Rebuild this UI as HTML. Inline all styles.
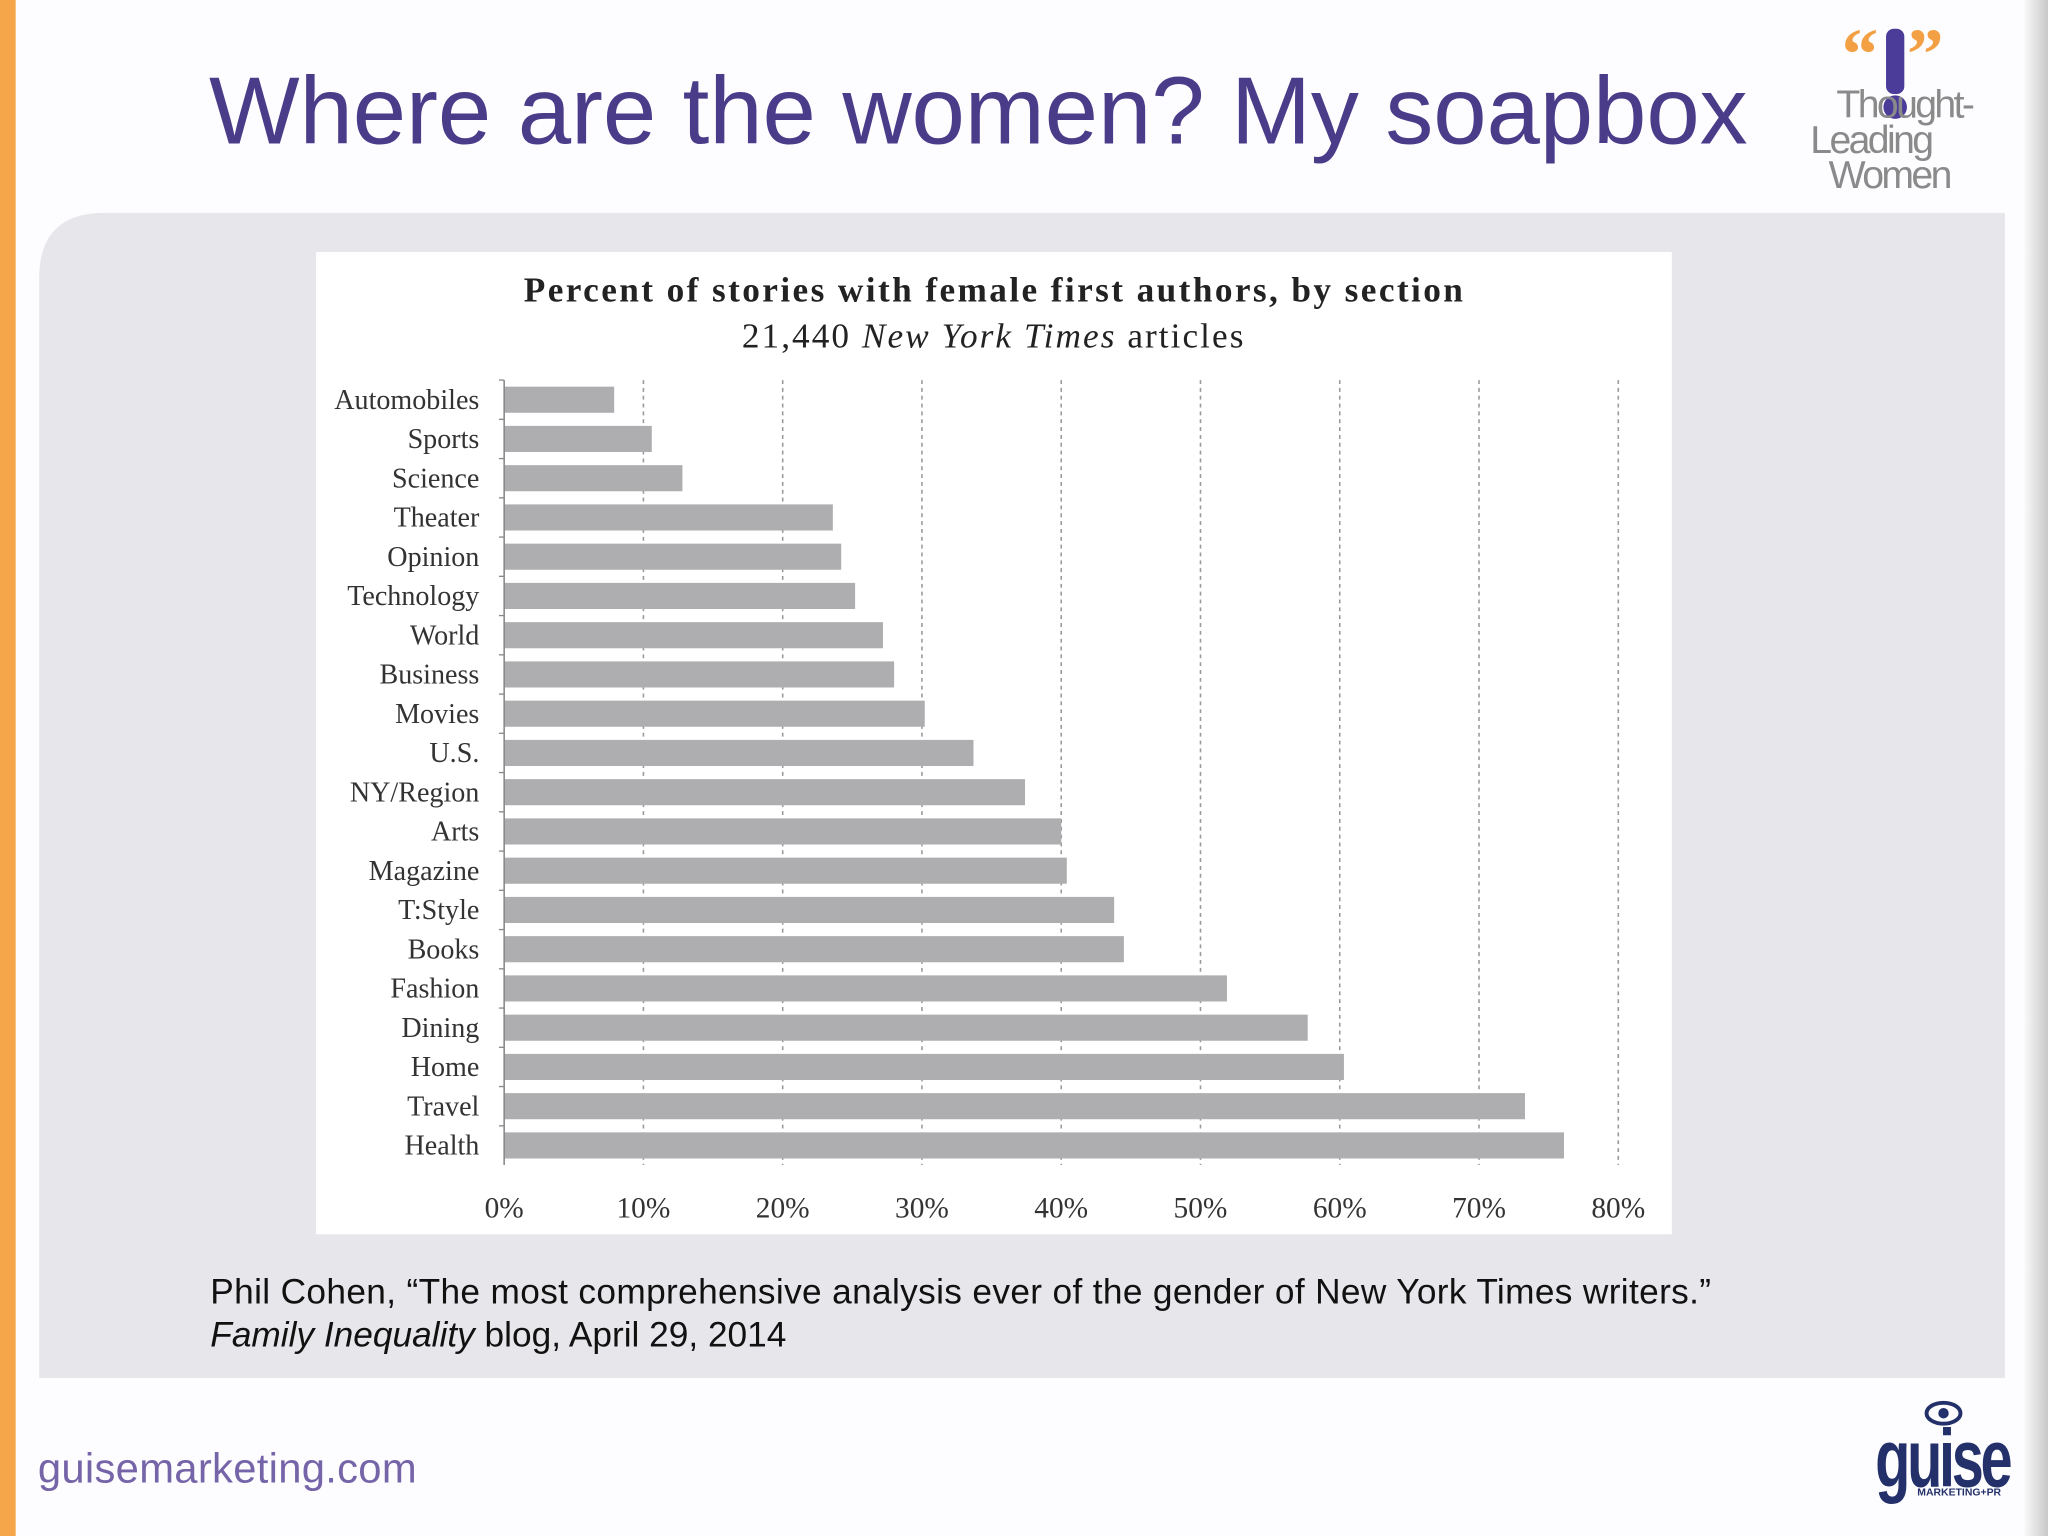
<!DOCTYPE html>
<html><head><meta charset="utf-8">
<style>
html,body{margin:0;padding:0;background:#fff;}
svg{display:block;}
</style></head>
<body>
<svg id="slide" width="2048" height="1536" viewBox="0 0 1568 1176" xmlns="http://www.w3.org/2000/svg">
  <defs>
    <linearGradient id="rshadow" x1="0" x2="1"><stop offset="0" stop-color="#fff"/><stop offset="1" stop-color="#c8c8c8"/></linearGradient>
  </defs>
  <rect width="1568" height="1176" fill="#fdfdff"/>
  <rect x="1548" y="0" width="20" height="1176" fill="url(#rshadow)"/>
  <rect x="0" y="0" width="12" height="1176" fill="#f6a64a"/>
  <text x="160" y="110" font-family="Liberation Sans, sans-serif" font-size="73.5" fill="#4b3c8a" textLength="1178">Where are the women? My soapbox</text>
  <g>
    <text x="1410" y="60" font-family="Liberation Serif, serif" font-weight="bold" font-size="56" fill="#f3a044">“</text>
    <text x="1460" y="60" font-family="Liberation Serif, serif" font-weight="bold" font-size="56" fill="#f3a044">”</text>
    <rect x="1444" y="22" width="14" height="50" rx="6" fill="#4b3c9a"/>
    <circle cx="1451" cy="82" r="9" fill="#4b3c9a"/>
    <text x="1406" y="90" font-family="Liberation Sans, sans-serif" font-size="30" fill="#8a8a8a" letter-spacing="-2">Thought-</text>
    <text x="1386" y="117" font-family="Liberation Sans, sans-serif" font-size="30" fill="#8a8a8a" letter-spacing="-2">Leading</text>
    <text x="1400" y="144" font-family="Liberation Sans, sans-serif" font-size="30" fill="#8a8a8a" letter-spacing="-2">Women</text>
  </g>
  <path d="M30 1055 L30 213 Q30 163 80 163 L1535 163 L1535 1055 Z" fill="#e7e6eb"/>
  <rect x="242" y="193" width="1038" height="752" fill="#ffffff"/>
  <text x="401" y="231" textLength="719" font-family="Liberation Serif, serif" font-weight="bold" font-size="27" fill="#222">Percent of stories with female first authors, by section</text>
  <text x="568" y="266" textLength="384" font-family="Liberation Serif, serif" font-size="27" fill="#222">21,440 <tspan font-style="italic">New York Times</tspan> articles</text>
  <g id="plot"></g>
  <text x="161" y="998" font-family="Liberation Sans, sans-serif" font-size="27" fill="#111" textLength="1149">Phil Cohen, “The most comprehensive analysis ever of the gender of New York Times writers.”</text>
  <text x="161" y="1031" font-family="Liberation Sans, sans-serif" font-size="27" fill="#111"><tspan font-style="italic">Family Inequality</tspan> blog, April 29, 2014</text>
  <text x="29" y="1135" font-family="Liberation Sans, sans-serif" font-size="32" fill="#7565a8" textLength="290">guisemarketing.com</text>
  <g>
    <ellipse cx="1488" cy="1082" rx="13" ry="8" fill="none" stroke="#23306a" stroke-width="3"/>
    <circle cx="1488" cy="1082" r="4" fill="#23306a"/>
    <text x="1487" y="1138" text-anchor="middle" font-family="Liberation Sans, sans-serif" font-weight="bold" font-size="52" fill="#23306a" letter-spacing="-3" transform="translate(1487 1138) scale(0.85 1.2) translate(-1487 -1138)">guise</text>
    <text x="1500" y="1145" text-anchor="middle" font-family="Liberation Sans, sans-serif" font-weight="bold" font-size="8" fill="#23306a">MARKETING+PR</text>
  </g>
</svg>
<script>
const categories = ["Automobiles","Sports","Science","Theater","Opinion","Technology","World","Business","Movies","U.S.","NY/Region","Arts","Magazine","T:Style","Books","Fashion","Dining","Home","Travel","Health"];
const values = [7.9,10.6,12.8,23.6,24.2,25.2,27.2,28.0,30.2,33.7,37.4,40.0,40.4,43.8,44.5,51.9,57.7,60.3,73.3,76.1];
const tickValues = [0,10,20,30,40,50,60,70,80];
const tickLabels = ["0%","10%","20%","30%","40%","50%","60%","70%","80%"];

const NS = "http://www.w3.org/2000/svg";
const plot = document.getElementById("plot");
const x0 = 386, x1 = 1239, maxV = 80;
const yTop = 291, step = 30.05, barH = 20;
const xScale = v => x0 + (v / maxV) * (x1 - x0);
const yCenter = i => yTop + step * i + step / 2;
function mk(tag, attrs) { const e = document.createElementNS(NS, tag); for (const k in attrs) e.setAttribute(k, attrs[k]); plot.appendChild(e); return e; }

tickValues.forEach((v, i) => {
  if (v > 0) {
    const g = mk("line", {x1: xScale(v), x2: xScale(v), y1: yTop, y2: yTop + step * categories.length, stroke: "#999", "stroke-width": 1.2, "stroke-dasharray": "3,3"});
    
    
  }
  const t = mk("text", {x: xScale(v), y: 932, "text-anchor": "middle", "font-family": "Liberation Serif, serif", "font-size": 22.5, fill: "#333"});
  t.textContent = tickLabels[i];
  
  
});

categories.forEach((c, i) => {
  const yc = yCenter(i);
  const r = mk("rect", {x: x0, y: yc - barH / 2, width: xScale(values[i]) - x0, height: barH, fill: "#aeaeb0"});
  
  
  const t = mk("text", {x: 367, y: yc + 7, "text-anchor": "end", "font-family": "Liberation Serif, serif", "font-size": 21.5, fill: "#333"});
  t.textContent = c;
  
  
  const tk = mk("line", {x1: x0 - 4, x2: x0, y1: yTop + step * i, y2: yTop + step * i, stroke: "#888", "stroke-width": 1});
  
  
});
const ax = mk("line", {x1: x0, x2: x0, y1: yTop, y2: yTop + step * categories.length, stroke: "#888", "stroke-width": 1.2});


</script>
</body></html>
